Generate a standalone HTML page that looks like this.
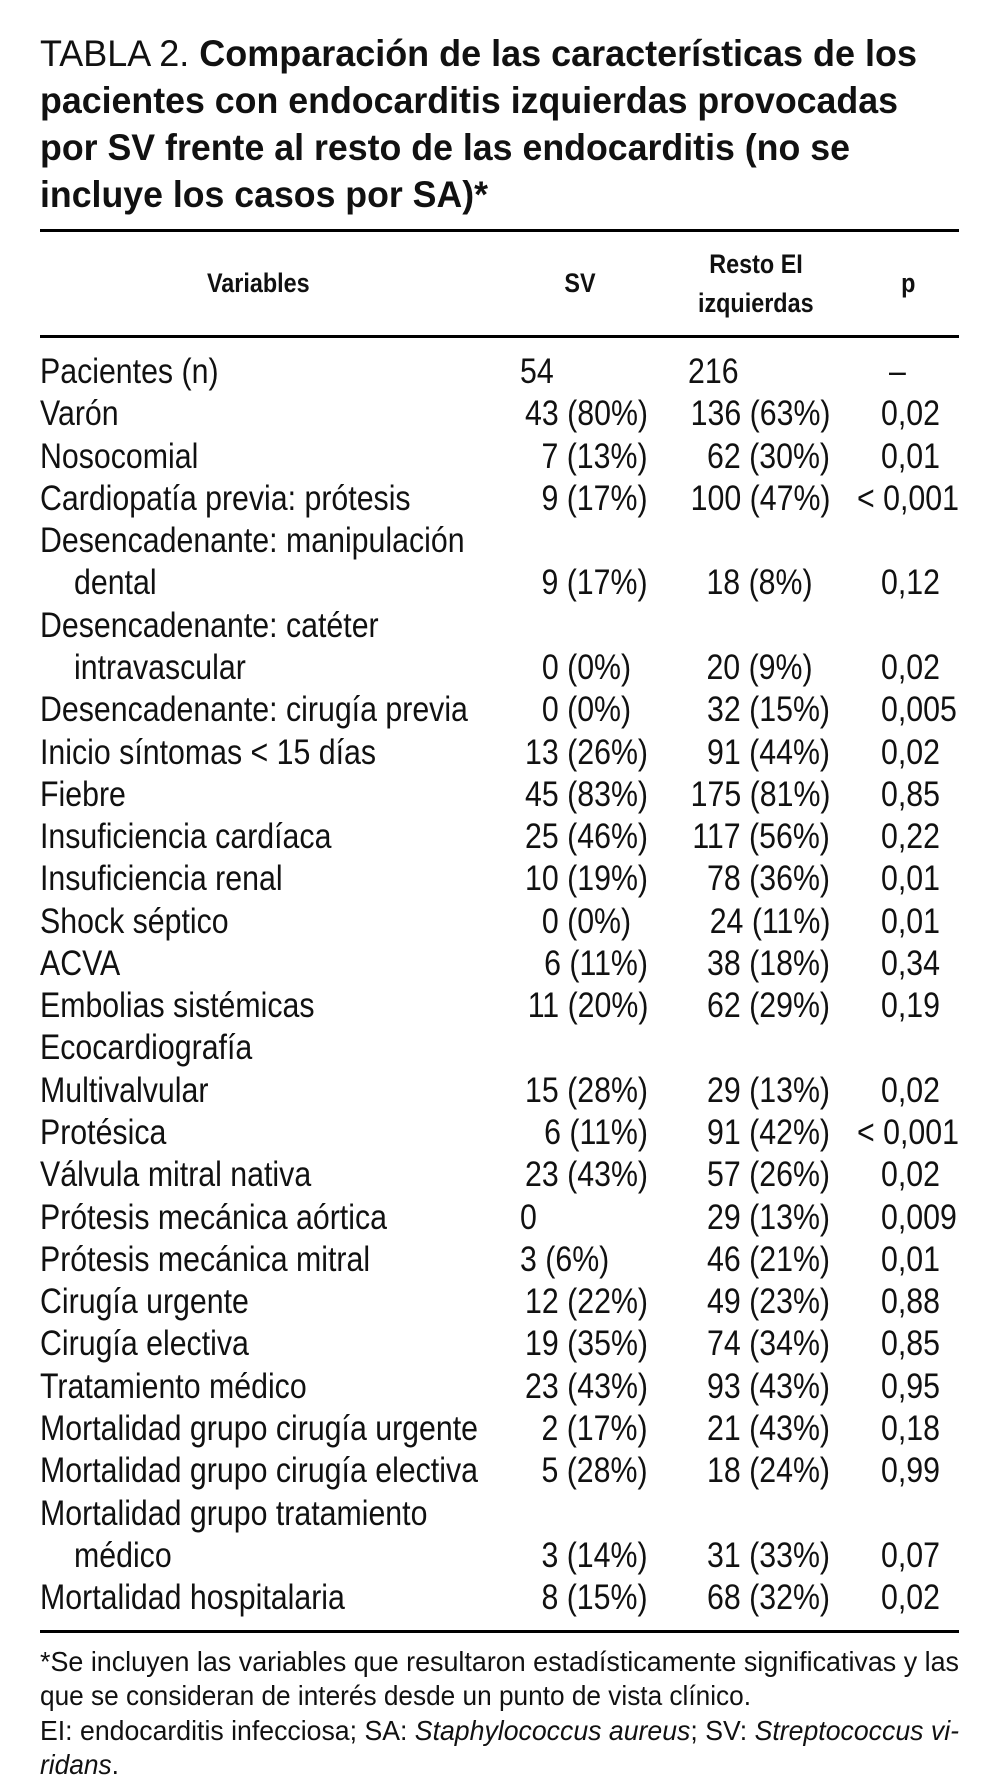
<!DOCTYPE html>
<html><head><meta charset="utf-8">
<style>
html,body{margin:0;padding:0;background:#fff;}
body{width:999px;height:1791px;position:relative;overflow:hidden;font-family:"Liberation Sans",Arial,sans-serif;color:#111;}
.t{position:absolute;white-space:nowrap;line-height:42px;height:42px;}
.s{display:inline-block;transform-origin:left center;}
.r .s{transform-origin:right center;}
.c .s{transform-origin:center center;}
.rule{position:absolute;left:40px;width:919px;background:#000;}
</style></head>
<body>
<div id="title"></div>
<div class="rule" style="top:229px;height:3px"></div>
<div id="hdr"></div>
<div class="rule" style="top:335px;height:3px"></div>
<div id="body"></div>
<div class="rule" style="top:1630px;height:3px"></div>
<div id="foot"></div>
<script>
const titleLines=['<span style="font-weight:normal">TABLA 2. </span>Comparación de las características de los','pacientes con endocarditis izquierdas provocadas','por SV frente al resto de las endocarditis (no se','incluye los casos por SA)*'];
const titleWidths=[877,858,810,448];
const labels=['Pacientes (n)','Varón','Nosocomial','Cardiopatía previa: prótesis','Desencadenante: manipulación','   dental','Desencadenante: catéter','   intravascular','Desencadenante: cirugía previa','Inicio síntomas < 15 días','Fiebre','Insuficiencia cardíaca','Insuficiencia renal','Shock séptico','ACVA','Embolias sistémicas','Ecocardiografía','Multivalvular','Protésica','Válvula mitral nativa','Prótesis mecánica aórtica','Prótesis mecánica mitral','Cirugía urgente','Cirugía electiva','Tratamiento médico','Mortalidad grupo cirugía urgente','Mortalidad grupo cirugía electiva','Mortalidad grupo tratamiento','   médico','Mortalidad hospitalaria'];
const svVals=['54','43 (80%)','7 (13%)','9 (17%)','','9 (17%)','','0 (0%)','0 (0%)','13 (26%)','45 (83%)','25 (46%)','10 (19%)','0 (0%)','6 (11%)','11 (20%)','','15 (28%)','6 (11%)','23 (43%)','0','3 (6%)','12 (22%)','19 (35%)','23 (43%)','2 (17%)','5 (28%)','','3 (14%)','8 (15%)'];
const restVals=['216','136 (63%)','62 (30%)','100 (47%)','','18 (8%)','','20 (9%)','32 (15%)','91 (44%)','175 (81%)','117 (56%)','78 (36%)','24 (11%)','38 (18%)','62 (29%)','','29 (13%)','91 (42%)','57 (26%)','29 (13%)','46 (21%)','49 (23%)','74 (34%)','93 (43%)','21 (43%)','18 (24%)','','31 (33%)','68 (32%)'];
const pVals=['–','0,02','0,01','< 0,001','','0,12','','0,02','0,005','0,02','0,85','0,22','0,01','0,01','0,34','0,19','','0,02','< 0,001','0,02','0,009','0,01','0,88','0,85','0,95','0,18','0,99','','0,07','0,02'];
const footLines=['*Se incluyen las variables que resultaron estadísticamente significativas y las','que se consideran de interés desde un punto de vista clínico.','EI: endocarditis infecciosa; SA: <i>Staphylococcus aureus</i>; SV: <i>Streptococcus vi-</i>','<i>ridans</i>.'];
const footWidths=[919,711,919,79];

function mk(parent,cls,html,style,fs,fw){
  const d=document.createElement('div');d.className='t '+cls;
  d.setAttribute('style',style+';font-size:'+fs+'px;font-weight:'+(fw||'normal'));
  const s=document.createElement('span');s.className='s';s.innerHTML=html;d.appendChild(s);
  parent.appendChild(d);return [d,s];
}
function fit(s,w){const m=s.getBoundingClientRect().width;s.style.transform='scaleX('+(w/m)+')';}

const T=document.getElementById('title');
titleLines.forEach((h,i)=>{
  const [d,s]=mk(T,'',h,'left:40px;top:'+(31+i*47)+'px;line-height:46px;height:46px',37,'bold');
  
  
  fit(s,titleWidths[i]);
});

const FS=35;
const probe=mk(document.body,'','Mortalidad grupo cirugía urgente','left:0;top:-200px',FS)[1];
const sc=438/probe.getBoundingClientRect().width;
probe.parentNode.remove();

const H=document.getElementById('hdr');
function hcell(txt,cx,cy,name){
  const [d,s]=mk(H,'c',txt,'left:'+(cx-150)+'px;width:300px;text-align:center;top:'+(cy-21)+'px',27,'bold');
  s.style.transform='scaleX('+sc+')';
  
  
}
hcell('Variables',258,283,'header-variables');
hcell('SV',580,283,'header-sv');
hcell('Resto EI',756,264,'header-resto-line1');
hcell('izquierdas',756,303,'header-resto-line2');
hcell('p',908,283,'header-p');

const B=document.getElementById('body');
labels.forEach((lab,i)=>{
  const cy=372+i*42.28, top=(cy-21)+'px';
  const ind=lab.startsWith('   ');
  let [d,s]=mk(B,'',lab.trim(),'left:'+(ind?74:40)+'px;top:'+top,FS);
  s.style.transform='scaleX('+sc+')';
  
  
  const sv=svVals[i];
  if(sv){
    const leftAl=(sv==='54'||sv==='0'||sv==='3 (6%)');
    const shortR=(sv==='0 (0%)');
    [d,s]=leftAl?mk(B,'',sv,'left:520px;top:'+top,FS):mk(B,'r',sv,'right:'+(999-(shortR?631:648))+'px;top:'+top,FS);
    s.style.transform='scaleX('+sc+')';
    
    
  }
  const rv=restVals[i];
  if(rv){
    const shortR=(rv==='18 (8%)'||rv==='20 (9%)');
    [d,s]=rv==='216'?mk(B,'',rv,'left:688px;top:'+top,FS):mk(B,'r',rv,'right:'+(999-(shortR?813:830))+'px;top:'+top,FS);
    s.style.transform='scaleX('+sc+')';
    
    
  }
  const pv=pVals[i];
  if(pv){
    const x=pv==='–'?889:(pv.startsWith('<')?857:881);
    [d,s]=mk(B,'',pv,'left:'+x+'px;top:'+top,FS);
    s.style.transform='scaleX('+sc+')';
    
    
  }
});

const F=document.getElementById('foot');
footLines.forEach((h,i)=>{
  const [d,s]=mk(F,'',h,'left:40px;top:'+(1645+i*34.3)+'px;line-height:34px;height:34px',28);
  
  
  fit(s,footWidths[i]);
});
</script>
</body></html>
